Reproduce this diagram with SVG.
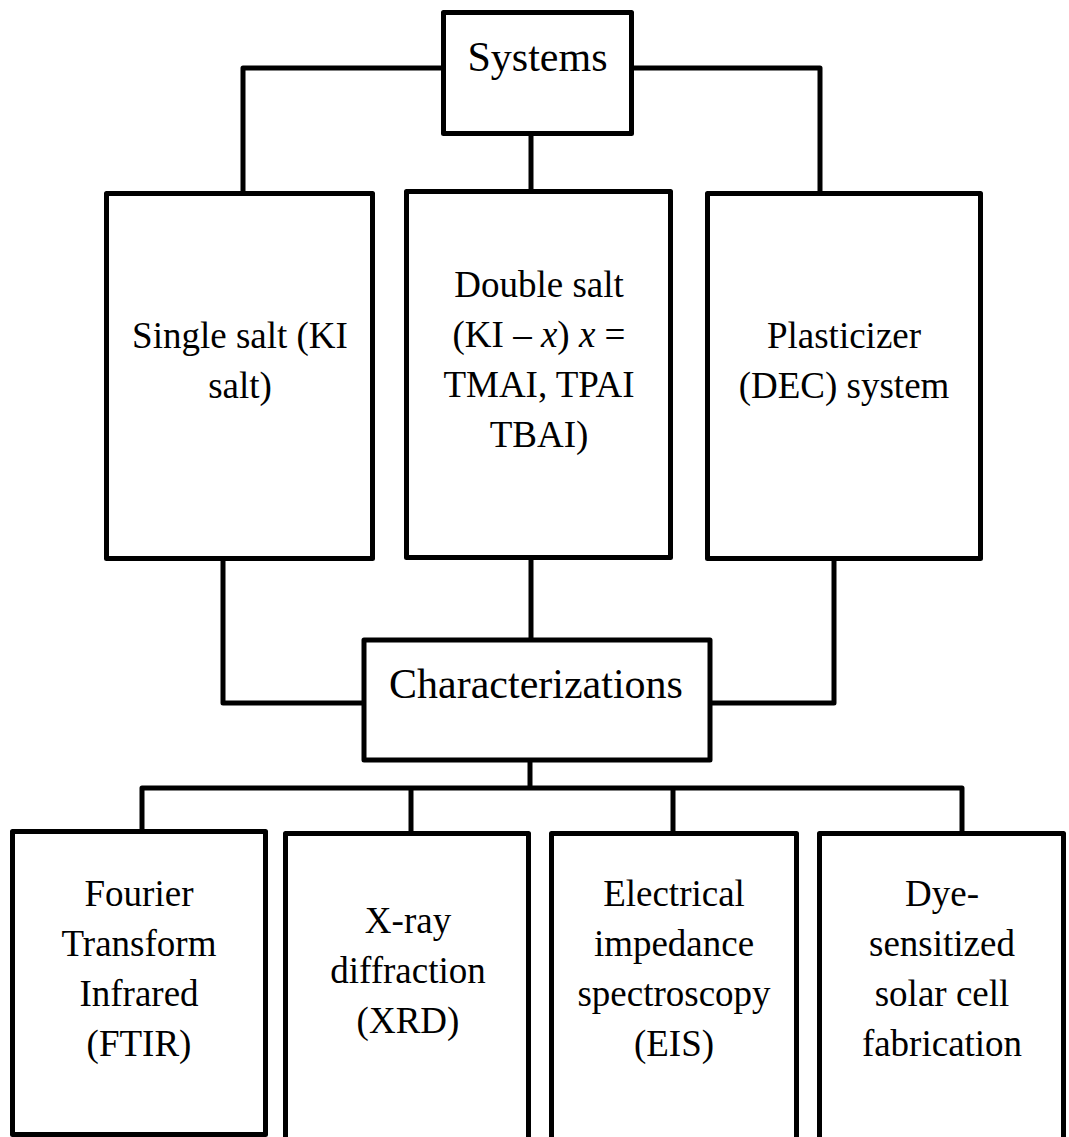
<svg xmlns="http://www.w3.org/2000/svg" width="1069" height="1137" viewBox="0 0 1069 1137">
<style>
.box{fill:#fff;stroke:#000;stroke-width:5;stroke-linejoin:round}
.ln{fill:none;stroke:#000;stroke-width:5;stroke-linejoin:round}
.lbl{fill:#000;text-anchor:middle}
.t37{font-size:37px}
.t42{font-size:42px}
</style>
<rect width="1069" height="1137" fill="#fff"/>
<g id="connectors">
<path class="ln" d="M443,68 H243 V193"/>
<path class="ln" d="M632,68 H820 V193"/>
<path class="ln" d="M531,134 V191"/>
<path class="ln" d="M223,559 V703 H364"/>
<path class="ln" d="M531,558 V640"/>
<path class="ln" d="M834,559 V703 H710"/>
<path class="ln" d="M530,760 V788"/>
<path class="ln" d="M142,831 V788 H962 V833"/>
<path class="ln" d="M411,788 V833"/>
<path class="ln" d="M673,788 V833"/>
</g>
<g font-family="'Liberation Serif', 'Times New Roman', Times, serif">
<g id="systems">
<rect class="box" x="443.5" y="12.5" width="188" height="121"/>
<text class="lbl t42" x="537.5" y="71">Systems</text>
</g>
<g id="single-salt">
<rect class="box" x="106.5" y="193.5" width="266" height="365"/>
<text class="lbl t37" x="240" y="348">Single salt (KI</text>
<text class="lbl t37" x="240" y="398">salt)</text>
</g>
<g id="double-salt">
<rect class="box" x="406.5" y="191.5" width="264" height="366"/>
<text class="lbl t37" x="539" y="297">Double salt</text>
<text class="lbl t37" x="539" y="347">(KI – <tspan font-style="italic">x</tspan>) <tspan font-style="italic">x</tspan> =</text>
<text class="lbl t37" x="539" y="397">TMAI, TPAI</text>
<text class="lbl t37" x="539" y="447">TBAI)</text>
</g>
<g id="plasticizer">
<rect class="box" x="707.5" y="193.5" width="273" height="365"/>
<text class="lbl t37" x="844" y="348">Plasticizer</text>
<text class="lbl t37" x="844" y="398">(DEC) system</text>
</g>
<g id="characterizations">
<rect class="box" x="364" y="640" width="346" height="120"/>
<text class="lbl t42" x="536" y="698">Characterizations</text>
</g>
<g id="ftir">
<rect class="box" x="12.5" y="831.5" width="253" height="303"/>
<text class="lbl t37" x="139" y="906">Fourier</text>
<text class="lbl t37" x="139" y="956">Transform</text>
<text class="lbl t37" x="139" y="1006">Infrared</text>
<text class="lbl t37" x="139" y="1056">(FTIR)</text>
</g>
<g id="xrd">
<rect class="box" x="285.5" y="833.5" width="243" height="320"/>
<text class="lbl t37" x="408" y="933">X-ray</text>
<text class="lbl t37" x="408" y="983">diffraction</text>
<text class="lbl t37" x="408" y="1033">(XRD)</text>
</g>
<g id="eis">
<rect class="box" x="551.5" y="833.5" width="245" height="320"/>
<text class="lbl t37" x="674" y="906">Electrical</text>
<text class="lbl t37" x="674" y="956">impedance</text>
<text class="lbl t37" x="674" y="1006">spectroscopy</text>
<text class="lbl t37" x="674" y="1056">(EIS)</text>
</g>
<g id="dssc">
<rect class="box" x="819.5" y="833.5" width="244" height="320"/>
<text class="lbl t37" x="942" y="906">Dye-</text>
<text class="lbl t37" x="942" y="956">sensitized</text>
<text class="lbl t37" x="942" y="1006">solar cell</text>
<text class="lbl t37" x="942" y="1056">fabrication</text>
</g>
</g>
</svg>
